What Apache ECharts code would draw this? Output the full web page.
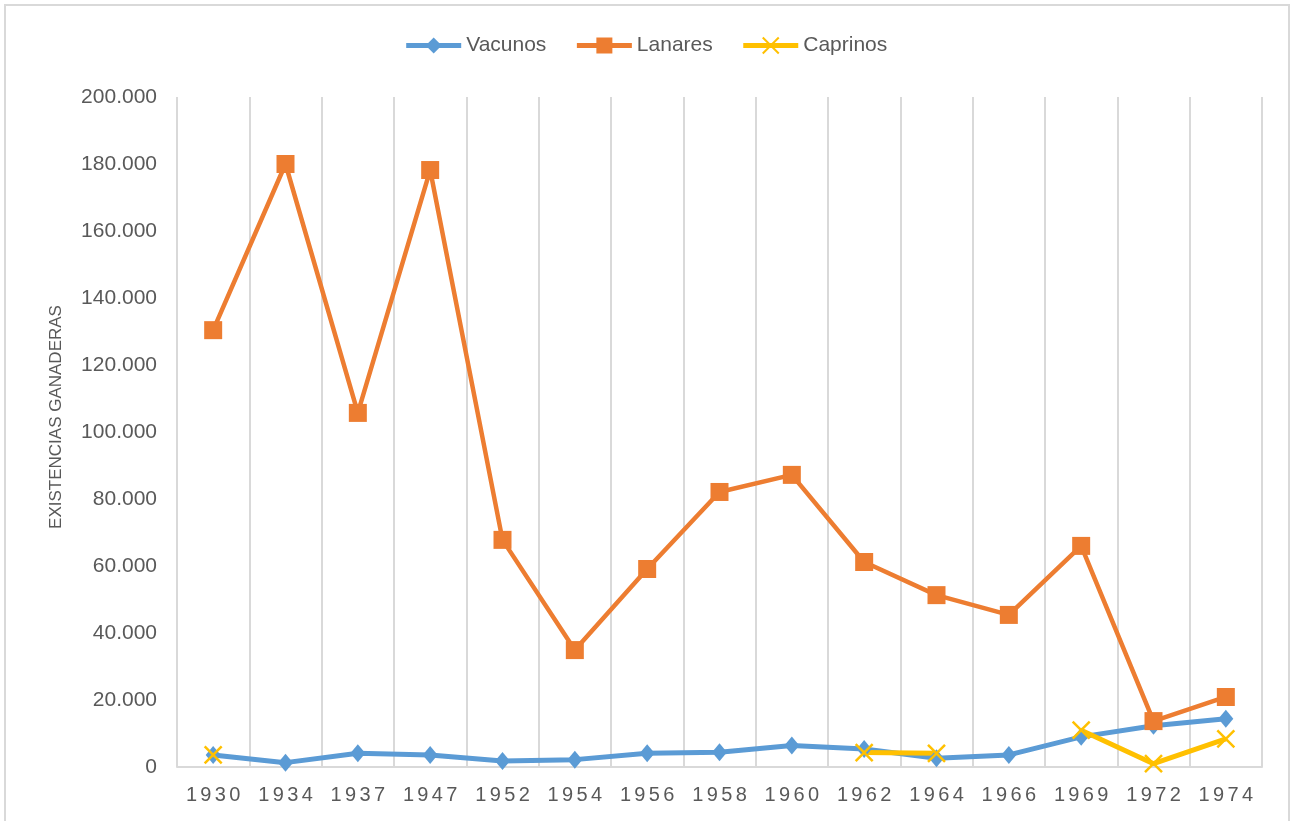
<!DOCTYPE html>
<html>
<head>
<meta charset="utf-8">
<script src="https://cdn.jsdelivr.net/npm/echarts@6/dist/echarts.min.js"></script>
<style>
  html, body { margin: 0; padding: 0; background: #fff; }
  #chart { width: 1291px; height: 821px; }
</style>
</head>
<body>
<div id="chart"></div>
<script>
// años del censo
const years = ['1930', '1934', '1937', '1947', '1952', '1954', '1956', '1958', '1960', '1962', '1964', '1966', '1969', '1972', '1974'];

// existencias ganaderas (cabezas)
const vacunos = [3600, 1300, 4100, 3600, 1800, 2200, 4100, 4400, 6400, 5400, 2600, 3600, 9000, 12300, 14400];
const lanares = [130400, 180000, 105700, 178200, 67800, 34900, 59100, 82100, 87200, 61200, 51300, 45400, 66000, 13700, 20900];
const caprinos = [3600, null, null, null, null, null, null, null, null, 4300, 4100, null, 11000, 1000, 8400];

const yTicks = { min: 0, max: 200000, interval: 20000 };

const chart = echarts.init(document.getElementById('chart'));

const textColor = '#595959';
const gridColor = '#d9d9d9';
const fontFamily = "'Liberation Sans', Arial, sans-serif";

// formato con punto de miles: 200000 -> 200.000
function fmtMiles(v) {
  return String(v).replace(/\B(?=(\d{3})+(?!\d))/g, '.');
}

const option = {
  animation: false,
  backgroundColor: '#fff',
  textStyle: { fontFamily: fontFamily, color: textColor },
  graphic: [{
    type: 'rect',
    shape: { x: 5, y: 5, width: 1284, height: 830 },
    style: { fill: 'none', stroke: gridColor, lineWidth: 2 },
    silent: true
  }],
  legend: {
    top: 30,
    left: 'center',
    itemWidth: 55,
    itemHeight: 20,
    itemGap: 28,
    lineStyle: { width: 5 },
    textStyle: { fontSize: 21, color: textColor, fontFamily: fontFamily },
    data: ['Vacunos', 'Lanares', 'Caprinos']
  },
  grid: { left: 177, right: 29, top: 97, bottom: 54, containLabel: false },
  xAxis: {
    type: 'category',
    data: years,
    boundaryGap: true,
    axisLine: { show: true, lineStyle: { color: gridColor, width: 2 } },
    axisTick: { show: false },
    splitLine: { show: true, lineStyle: { color: gridColor, width: 2 } },
    axisLabel: {
      color: textColor,
      fontSize: 20,
      margin: 18,
      fontFamily: fontFamily,
      formatter: v => v.split('').join('\u200A\u200A')
    }
  },
  yAxis: {
    type: 'value',
    min: yTicks.min,
    max: yTicks.max,
    interval: yTicks.interval,
    name: 'EXISTENCIAS GANADERAS',
    nameLocation: 'middle',
    nameRotate: 90,
    nameGap: 112,
    nameTextStyle: { fontSize: 17, color: textColor, fontFamily: fontFamily, padding: [0, 0, 0, 30] },
    axisLine: { show: false },
    axisTick: { show: false },
    splitLine: { show: false },
    axisLabel: {
      color: textColor,
      fontSize: 21,
      margin: 20,
      fontFamily: fontFamily,
      formatter: v => fmtMiles(v)
    }
  },
  series: [
    {
      name: 'Vacunos',
      type: 'line',
      data: vacunos,
      symbol: 'diamond',
      symbolSize: [15, 18],
      itemStyle: { color: '#5B9BD5' },
      lineStyle: { color: '#5B9BD5', width: 5 }
    },
    {
      name: 'Lanares',
      type: 'line',
      data: lanares,
      symbol: 'rect',
      symbolSize: 18,
      itemStyle: { color: '#ED7D31' },
      lineStyle: { color: '#ED7D31', width: 4.5 }
    },
    {
      name: 'Caprinos',
      type: 'line',
      data: caprinos,
      symbol: 'path://M0,0L10,10M10,0L0,10',
      symbolSize: 17,
      itemStyle: { color: '#FFC000', borderColor: '#FFC000', borderWidth: 2.5 },
      lineStyle: { color: '#FFC000', width: 5 }
    }
  ]
};

chart.setOption(option);
</script>
</body>
</html>
